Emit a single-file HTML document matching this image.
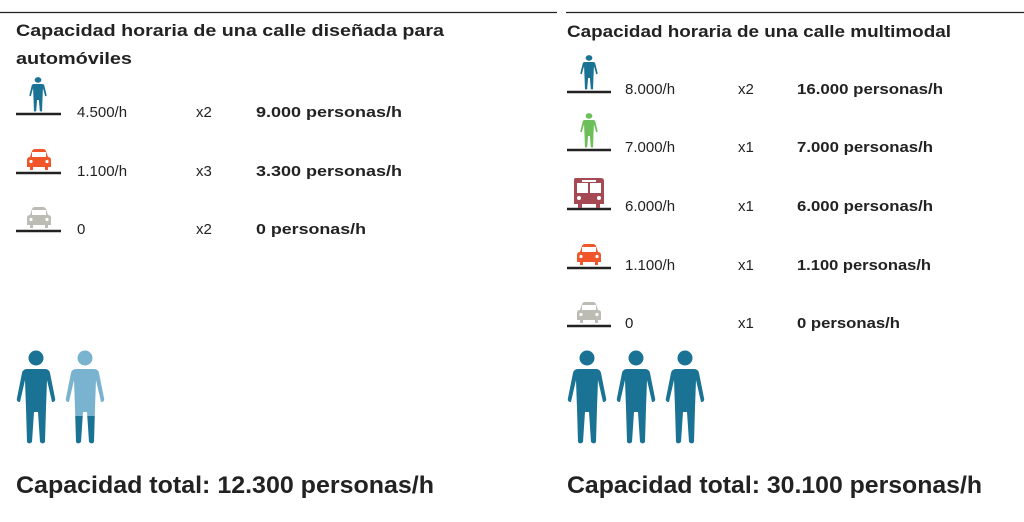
<!DOCTYPE html>
<html><head><meta charset="utf-8"><style>
html,body{margin:0;padding:0;background:#fff;}
svg{display:block;font-family:"Liberation Sans",sans-serif;}
</style></head><body>
<svg width="1024" height="522" viewBox="0 0 1024 522">
<defs>
<g id="p">
 <circle cx="20" cy="8" r="7.5"/>
 <path d="M11 19 H29 Q33 19 34 23 L39 48 Q40 52 36 52 L31 30 L30 58 L29 92 Q27 95 24 92 L22 62 H18 L16 92 Q13 95 11 92 L10 58 L9 30 L4 52 Q0 52 1 48 L6 23 Q7 19 11 19Z"/>
</g>
<g id="car">
 <path d="M4 8 L6 2 Q7 0 9 0 H17 Q19 0 20 2 L22 8 Q25 8 25 11 V18 H22 V21 H19 V18 H7 V21 H4 V18 H1 V11 Q1 8 4 8Z"/>
 <rect x="6" y="3" width="14" height="5" fill="#fff"/>
 <circle cx="5" cy="12.5" r="1.6" fill="#fff"/><circle cx="21" cy="12.5" r="1.6" fill="#fff"/>
</g>
<g id="bus">
 <path d="M2 0 H28 Q31 0 31 3 V26 H27 V30 H23 V26 H9 V30 H5 V26 H1 V3 Q1 0 2 0Z"/>
 <rect x="4" y="5" width="11" height="10" fill="#fff"/><rect x="17" y="5" width="11" height="10" fill="#fff"/>
 <rect x="9" y="2" width="14" height="2" fill="#fff"/>
 <circle cx="6" cy="20" r="2" fill="#fff"/><circle cx="26" cy="20" r="2" fill="#fff"/>
</g>
<clipPath id="top"><rect x="-5" y="-5" width="50" height="71"/></clipPath>
<clipPath id="bot"><rect x="-5" y="66" width="50" height="40"/></clipPath>
</defs>
<line x1="0" y1="12.5" x2="557" y2="12.5" stroke="#222" stroke-width="1.3"/>
<line x1="566" y1="12.5" x2="1024" y2="12.5" stroke="#222" stroke-width="1.3"/>
<g font-weight="bold" font-size="17" fill="#222">
<text x="16" y="36" textLength="428" lengthAdjust="spacingAndGlyphs">Capacidad horaria de una calle diseñada para</text>
<text x="16" y="64" textLength="116" lengthAdjust="spacingAndGlyphs">automóviles</text>
<text x="567" y="37" textLength="384" lengthAdjust="spacingAndGlyphs">Capacidad horaria de una calle multimodal</text>
</g>
<g stroke="#222" stroke-width="2.5">
<line x1="16" y1="114" x2="61" y2="114"/><line x1="16" y1="173" x2="61" y2="173"/><line x1="16" y1="231" x2="61" y2="231"/>
<line x1="567" y1="92" x2="611" y2="92"/><line x1="567" y1="150" x2="611" y2="150"/><line x1="567" y1="209" x2="611" y2="209"/><line x1="567" y1="268" x2="611" y2="268"/><line x1="567" y1="326" x2="611" y2="326"/>
</g>
<use href="#p" transform="translate(29,77) scale(0.45,0.37)" fill="#1a7394"/>
<use href="#car" transform="translate(26,149)" fill="#f0562a"/>
<use href="#car" transform="translate(26,207)" fill="#bcbcb4"/>
<use href="#p" transform="translate(580,55) scale(0.45,0.37)" fill="#1a7394"/>
<use href="#p" transform="translate(580,113) scale(0.45,0.37)" fill="#6cbf5a"/>
<use href="#bus" transform="translate(573,178)" fill="#a54a55"/>
<use href="#car" transform="translate(576,244)" fill="#f0562a"/>
<use href="#car" transform="translate(576,302)" fill="#bcbcb4"/>
<g font-size="15" fill="#222">
<text x="77" y="117">4.500/h</text><text x="196" y="117">x2</text><text x="256" y="117" font-weight="bold" textLength="146" lengthAdjust="spacingAndGlyphs">9.000 personas/h</text>
<text x="77" y="176">1.100/h</text><text x="196" y="176">x3</text><text x="256" y="176" font-weight="bold" textLength="146" lengthAdjust="spacingAndGlyphs">3.300 personas/h</text>
<text x="77" y="234">0</text><text x="196" y="234">x2</text><text x="256" y="234" font-weight="bold" textLength="110" lengthAdjust="spacingAndGlyphs">0 personas/h</text>
<text x="625" y="94">8.000/h</text><text x="738" y="94">x2</text><text x="797" y="94" font-weight="bold" textLength="146" lengthAdjust="spacingAndGlyphs">16.000 personas/h</text>
<text x="625" y="152">7.000/h</text><text x="738" y="152">x1</text><text x="797" y="152" font-weight="bold" textLength="136" lengthAdjust="spacingAndGlyphs">7.000 personas/h</text>
<text x="625" y="211">6.000/h</text><text x="738" y="211">x1</text><text x="797" y="211" font-weight="bold" textLength="136" lengthAdjust="spacingAndGlyphs">6.000 personas/h</text>
<text x="625" y="270">1.100/h</text><text x="738" y="270">x1</text><text x="797" y="270" font-weight="bold" textLength="134" lengthAdjust="spacingAndGlyphs">1.100 personas/h</text>
<text x="625" y="328">0</text><text x="738" y="328">x1</text><text x="797" y="328" font-weight="bold" textLength="103" lengthAdjust="spacingAndGlyphs">0 personas/h</text>
</g>
<use href="#p" transform="translate(16,350)" fill="#1a7394"/>
<g transform="translate(65,350)">
<use href="#p" fill="#7ab3d0" clip-path="url(#top)"/>
<use href="#p" fill="#1a7394" clip-path="url(#bot)"/>
</g>
<use href="#p" transform="translate(567,350)" fill="#1a7394"/>
<use href="#p" transform="translate(616,350)" fill="#1a7394"/>
<use href="#p" transform="translate(665,350)" fill="#1a7394"/>
<g font-size="24" font-weight="bold" fill="#222">
<text x="16" y="493" textLength="418" lengthAdjust="spacingAndGlyphs">Capacidad total: 12.300 personas/h</text>
<text x="567" y="493" textLength="415" lengthAdjust="spacingAndGlyphs">Capacidad total: 30.100 personas/h</text>
</g>
</svg>
</body></html>
